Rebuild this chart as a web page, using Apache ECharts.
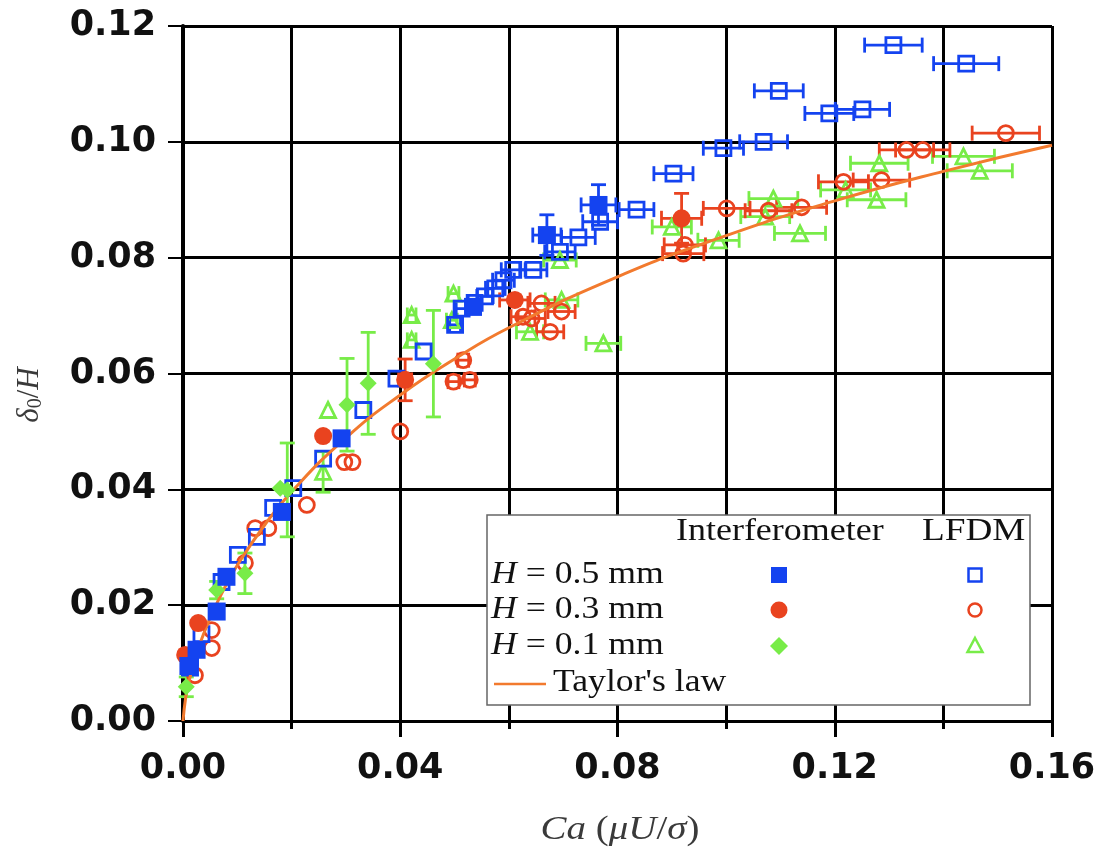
<!DOCTYPE html>
<html>
<head>
<meta charset="utf-8">
<script src="https://cdn.jsdelivr.net/npm/echarts@6/dist/echarts.min.js"></script>
<style>html,body{margin:0;padding:0;background:#fff}#c{width:1102px;height:855px}</style>
</head>
<body>
<div id="c"></div>
<script>
// ---- data ----
// [Ca, delta0/H, xErr, yErr]
const interf05 = [
  [0.0010,0.0095,0,0],[0.0025,0.0123,0,0],[0.0062,0.0189,0,0],[0.0080,0.0249,0,0],
  [0.0182,0.0361,0,0],[0.0292,0.0488,0,0.0010],[0.0534,0.0715,0,0],
  [0.0670,0.0839,0.0026,0.0035],[0.0765,0.0891,0.0032,0.0035]
];
const interf03 = [
  [0.0004,0.0114,0,0],[0.0028,0.0169,0,0],[0.0258,0.0492,0,0],
  [0.0409,0.0589,0.0012,0.0036],[0.0611,0.0727,0.0028,0],[0.0918,0.0868,0.0037,0.0043]
];
const interf01 = [
  [0.0006,0.0059,0,0.0017],[0.0062,0.0226,0,0.0015],[0.0114,0.0255,0,0.0035],
  [0.0179,0.0402,0,0],[0.0192,0.0399,0,0.0081],[0.0302,0.0546,0,0.0080],
  [0.0341,0.0583,0,0.0088],[0.0461,0.0617,0,0.0092]
];
const lfdm05 = [
  [0.0013,0.0092,0,0],[0.0013,0.0110,0,0],[0.0034,0.0150,0,0],[0.0071,0.0240,0,0],
  [0.0101,0.0287,0,0],[0.0136,0.0318,0,0],[0.0166,0.0368,0,0],[0.0203,0.0402,0,0],
  [0.0258,0.0453,0,0],[0.0332,0.0537,0,0],[0.0393,0.0591,0,0],[0.0443,0.0638,0,0],
  [0.0501,0.0684,0.0010,0],[0.0513,0.0712,0.0010,0],[0.0537,0.0722,0.0012,0],
  [0.0556,0.0733,0.0015,0],[0.0575,0.0747,0.0018,0],[0.0590,0.0761,0.0020,0],
  [0.0608,0.0779,0.0022,0],[0.0645,0.0779,0.0025,0],[0.0694,0.0810,0.0028,0],
  [0.0728,0.0835,0.0031,0],[0.0768,0.0862,0.0032,0],[0.0835,0.0883,0.0032,0],
  [0.0903,0.0945,0.0036,0],[0.0995,0.0989,0.0037,0],[0.1069,0.1000,0.0044,0],
  [0.1097,0.1088,0.0045,0],[0.1190,0.1049,0.0045,0],[0.1251,0.1056,0.0050,0],
  [0.1308,0.1167,0.0053,0],[0.1442,0.1135,0.0060,0]
];
const lfdm03 = [
  [0.0022,0.0079,0,0],[0.0053,0.0126,0,0],[0.0053,0.0157,0,0],[0.0114,0.0273,0,0],
  [0.0133,0.0333,0,0],[0.0157,0.0333,0,0],[0.0228,0.0373,0,0],[0.0297,0.0447,0,0],
  [0.0312,0.0447,0,0],[0.0400,0.0500,0,0],[0.0498,0.0586,0.0010,0],[0.0528,0.0589,0.0010,0],
  [0.0516,0.0623,0.0010,0],[0.0626,0.0698,0.0022,0],[0.0660,0.0721,0.0025,0],
  [0.0697,0.0707,0.0025,0],[0.0642,0.0695,0.0025,0],[0.0676,0.0672,0.0025,0],
  [0.0924,0.0822,0.0038,0],[0.0921,0.0807,0.0038,0],[0.1001,0.0885,0.0043,0],
  [0.1078,0.0881,0.0043,0],[0.1139,0.0887,0.0046,0],[0.1216,0.0931,0.0046,0],
  [0.1286,0.0934,0.0052,0],[0.1332,0.0986,0.0050,0],[0.1362,0.0986,0.0050,0],
  [0.1515,0.1015,0.0062,0]
];
const lfdm01 = [
  [0.0267,0.0537,0,0],[0.0258,0.0430,0,0.0035],[0.0421,0.0701,0.0008,0],[0.0421,0.0658,0.0008,0],
  [0.0498,0.0738,0.0010,0],[0.0495,0.0692,0.0010,0],[0.0639,0.0672,0.0025,0],
  [0.0694,0.0796,0.0030,0],[0.0697,0.0727,0.0030,0],[0.0774,0.0652,0.0032,0],
  [0.0900,0.0853,0.0036,0],[0.0986,0.0830,0.0038,0],[0.1072,0.0871,0.0045,0],
  [0.1087,0.0902,0.0045,0],[0.1136,0.0842,0.0047,0],[0.1220,0.0917,0.0046,0],
  [0.1277,0.0900,0.0054,0],[0.1282,0.0963,0.0053,0],[0.1437,0.0975,0.0057,0],
  [0.1467,0.0950,0.0060,0]
];
const taylorCa = [0,0.0005,0.001,0.002,0.003,0.005,0.0075,0.01,0.015,0.02,0.03,0.04,0.05,0.06,0.08,0.10,0.12,0.14,0.16];
const taylorD  = [0,0.0041,0.0064,0.0101,0.0130,0.0178,0.0227,0.0269,0.0338,0.0396,0.0489,0.0563,0.0625,0.0679,0.0767,0.0838,0.0898,0.0949,0.0994];
const xRange = [0, 0.16], yRange = [0, 0.12];
const legendRows = ['H = 0.5 mm','H = 0.3 mm','H = 0.1 mm'];

// ---- styles ----
const BLUE='#1443F0', RED='#E9431F', GREEN='#78EC48', ORANGE='#F27A2E';
const chart = echarts.init(document.getElementById('c'));

function errBars(data, color) {
  return {
    type:'custom', silent:true, z:2,
    encode:{x:0,y:1},
    data,
    renderItem(params, api) {
      const x=api.value(0), y=api.value(1), ex=api.value(2), ey=api.value(3);
      const ch=[]; const st={stroke:color, lineWidth:2.8};
      const cap=7.5;
      if (ex>0) {
        const l=api.coord([x-ex,y]), r=api.coord([x+ex,y]);
        ch.push({type:'line',shape:{x1:l[0],y1:l[1],x2:r[0],y2:r[1]},style:st});
        ch.push({type:'line',shape:{x1:l[0],y1:l[1]-cap,x2:l[0],y2:l[1]+cap},style:st});
        ch.push({type:'line',shape:{x1:r[0],y1:r[1]-cap,x2:r[0],y2:r[1]+cap},style:st});
      }
      if (ey>0) {
        const t=api.coord([x,y+ey]), b=api.coord([x,y-ey]);
        ch.push({type:'line',shape:{x1:t[0],y1:t[1],x2:b[0],y2:b[1]},style:st});
        ch.push({type:'line',shape:{x1:t[0]-cap,y1:t[1],x2:t[0]+cap,y2:t[1]},style:st});
        ch.push({type:'line',shape:{x1:b[0]-cap,y1:b[1],x2:b[0]+cap,y2:b[1]},style:st});
      }
      return {type:'group',children:ch};
    }
  };
}
function pts(name, data, symbol, size, color, filled, z) {
  return {
    name, type:'scatter', data: data.map(d=>[d[0],d[1]]), symbol, symbolSize:size, z,
    itemStyle: filled ? {color, opacity:1} : {color:'rgba(255,255,255,0)', borderColor:color, borderWidth:2.8, opacity:1},
    emphasis:{disabled:true}
  };
}

const serif = 'Liberation Serif';
const axisFont = {fontFamily:'DejaVu Sans', fontWeight:'bold', fontSize:35, color:'#111'};

// legend geometry
const LX=487, LY=515, LW=543, LH=190;
const colI=779, colL=975, rowY=[575,610,646], taylorY=683;
const g = [];
g.push({type:'rect', shape:{x:LX,y:LY,width:LW,height:LH}, style:{fill:'#fff',stroke:'#666',lineWidth:1.5}, z:100});
g.push({type:'text', x:676, y:547, style:{text:'Interferometer', font:'31px "Liberation Serif"', fill:'#111', textVerticalAlign:'bottom'}, scaleX:1.16, z:101});
g.push({type:'text', x:922, y:547, style:{text:'LFDM', font:'31px "Liberation Serif"', fill:'#111', textVerticalAlign:'bottom'}, scaleX:1.2, z:101});
legendRows.forEach((t,i)=>{
  g.push({type:'text', x:491, y:rowY[i], style:{
    rich:{i:{fontStyle:'italic',fontFamily:serif,fontSize:31,fill:'#111'},n:{fontFamily:serif,fontSize:31,fill:'#111'}},
    text:'{i|H}{n| = '+t.slice(4)+'}', verticalAlign:'middle'}, scaleX:1.15, z:101});
});
g.push({type:'line', shape:{x1:494,y1:taylorY+1,x2:546,y2:taylorY+1}, style:{stroke:ORANGE,lineWidth:2.5}, z:101});
g.push({type:'text', x:553, y:taylorY, style:{text:"Taylor's law", font:'31px "Liberation Serif"', fill:'#111', verticalAlign:'middle'}, scaleX:1.15, z:101});
// legend markers
g.push({type:'rect', shape:{x:colI-8,y:rowY[0]-8,width:16,height:16}, style:{fill:BLUE}, z:101});
g.push({type:'circle', shape:{cx:colI,cy:rowY[1],r:8.5}, style:{fill:RED}, z:101});
g.push({type:'polygon', shape:{points:[[colI,rowY[2]-9],[colI+9,rowY[2]],[colI,rowY[2]+9],[colI-9,rowY[2]]]}, style:{fill:GREEN}, z:101});
g.push({type:'rect', shape:{x:colL-6.5,y:rowY[0]-6.5,width:13,height:13}, style:{fill:'none',stroke:BLUE,lineWidth:2.5}, z:101});
g.push({type:'circle', shape:{cx:colL,cy:rowY[1],r:6.5}, style:{fill:'none',stroke:RED,lineWidth:2.5}, z:101});
g.push({type:'polygon', shape:{points:[[colL,rowY[2]-8],[colL+7.5,rowY[2]+6],[colL-7.5,rowY[2]+6]]}, style:{fill:'none',stroke:GREEN,lineWidth:2.5}, z:101});
// axis titles
g.push({type:'text', x:620, y:830, style:{
  rich:{i:{fontFamily:serif,fontStyle:'italic',fontSize:33,fill:'#3a3a3a'},n:{fontFamily:serif,fontSize:33,fill:'#3a3a3a'}},
  text:'{i|Ca}{n| (}{i|μU}{n|/}{i|σ}{n|)}', align:'center', verticalAlign:'middle'}, scaleX:1.18, z:101});
g.push({type:'text', x:30, y:395, rotation:Math.PI/2, style:{
  rich:{i:{fontFamily:serif,fontStyle:'italic',fontSize:31,fill:'#3a3a3a'},s:{fontFamily:serif,fontSize:20,fill:'#3a3a3a',padding:[12,0,0,0]},n:{fontFamily:serif,fontSize:31,fill:'#3a3a3a'}},
  text:'{i|δ}{s|0}{n|/}{i|H}', align:'center', verticalAlign:'middle'}, z:101});

const option = {
  animation:false,
  backgroundColor:'#fff',
  grid:{left:183, right:50, top:26, bottom:134, containLabel:false},
  xAxis:{
    type:'value', min:xRange[0], max:xRange[1], interval:0.04,
    axisLine:{show:true, onZero:false, lineStyle:{color:'#000', width:2}},
    axisTick:{show:true, inside:false, length:16, lineStyle:{color:'#000', width:3}},
    minorTick:{show:true, splitNumber:2, length:8, lineStyle:{color:'#000', width:3}},
    splitLine:{show:true, lineStyle:{color:'#000', width:3}},
    minorSplitLine:{show:true, lineStyle:{color:'#000', width:3}},
    axisLabel:{...axisFont, margin:30, formatter:v=>v.toFixed(2)}
  },
  yAxis:{
    type:'value', min:yRange[0], max:yRange[1], interval:0.02,
    axisLine:{show:true, onZero:false, lineStyle:{color:'#000', width:4}},
    axisTick:{show:true, inside:false, length:15, lineStyle:{color:'#000', width:2}},
    splitLine:{show:true, lineStyle:{color:'#000', width:3}},
    axisLabel:{...axisFont, margin:27, formatter:v=>v.toFixed(2)}
  },
  graphic: g,
  series:[
    errBars(lfdm01, GREEN), errBars(lfdm03, RED), errBars(lfdm05, BLUE),
    errBars(interf01, GREEN), errBars(interf03, RED), errBars(interf05, BLUE),
    pts('LFDM 0.1', lfdm01, 'triangle', 15, GREEN, false, 3),
    pts('LFDM 0.3', lfdm03, 'circle', 15, RED, false, 3),
    pts('LFDM 0.5', lfdm05, 'rect', 15, BLUE, false, 3),
    {name:"Taylor's law", type:'line', smooth:true, symbol:'none', z:4,
     data: taylorCa.map((c,i)=>[c, taylorD[i]]), lineStyle:{color:ORANGE, width:3}},
    pts('Interf 0.1', interf01, 'diamond', 17, GREEN, true, 5),
    pts('Interf 0.3', interf03, 'circle', 18, RED, true, 5),
    pts('Interf 0.5', interf05, 'rect', 18, BLUE, true, 5)
  ]
};
chart.setOption(option);
</script>
</body>
</html>
